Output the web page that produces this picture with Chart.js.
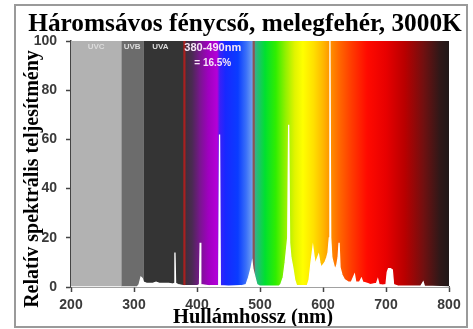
<!DOCTYPE html>
<html><head><meta charset="utf-8">
<script src="https://cdn.jsdelivr.net/npm/chart.js@4/dist/chart.umd.min.js"></script>
<style>html,body{margin:0;padding:0;background:#fff}canvas{display:block}</style>
</head><body>
<canvas id="c" width="473" height="329"></canvas>
<script>
const titleText = 'Háromsávos fénycső, melegfehér, 3000K';
const xTitle = 'Hullámhossz (nm)';
const yTitle = 'Relatív spektrális teljesítmény';
const xTicks = [200, 300, 400, 500, 600, 700, 800];
const yTicks = [0, 20, 40, 60, 80, 100];

// spectrum (white area)
const wavelengths = [200,300,305,308,311,313,315,320,330,335,340,350,355,362,364,365,366,370,380,400,404,405,406,420,434.5,435.8,437,450,470,478,482,486,487.5,489,492,495,500,530,533,537,540,542,544,545.5,547,549,552,555,558,575,578,581,584,586,588,590,593,595,597,600,603,606,608,610,611,612.2,614,616,619,622,624,625.5,627,630,634,640,645,650,652,658,661,663,670,675,685,687,689,695,700,702,704,707,710,712,720,755,759,761,800];
const power =       [0,  0,  0,  1,  4,  3.5,2,  1.5,1.5,2,  1.5,1.5,1.5,1.2,1.5,14, 1.5,1,  0.5,0.5,1,  18, 1,  0.5,0.5,  62,   0.5,0.3,0.5,1,  4,  8,  10,   7,  4,  1,  0.3,0.3,1,  4,  10, 15, 20, 66,   18, 12, 8,  3,  0.5,0.5,3,  10, 16, 12, 9,  11, 13, 10, 8,  9,  10, 12, 14, 20, 100,20,   12, 10, 7,  9,  12, 18,   8,  5,  3,  2,  2,  5,  2,  2,  3.5,2,  1.5,1,  1.5,3,  1,  0.8,1,  6,  7.5,7.5,7,  1,  0.3,0.3,2,  0.3,0];

// background bands
const uvBandStart = [200, 280, 315];
const uvBandEnd = [280, 315, 380];
const uvBandColor = ['#b2b2b2', '#6c6c6c', '#343434'];
const uvLabels = ['UVC', 'UVB', 'UVA'];
const uvLabelNm = [240, 297, 342];
const gradNm = [380,392,405,418,432,436.5,445,465,478,488,491,497,508,525,540,555,568,585,600,612,625,645,670,700,730,760,785,800];
const gradColor = ['#3c3038','#4a2a52','#7a1590','#a000c0','#b400d8','#3a20f8','#1828ff','#0a3cff','#3a70f8','#70a0f0','#40a890','#20c070','#00e030','#30ee00','#90f000','#e0f400','#ffff00','#ffe000','#ffb800','#ff9000','#ff6a00','#ff3c00','#ff0a00','#e80000','#b80000','#701010','#301818','#201818'];
const markerNm = [380, 490];
const markerColor = ['#a82020', '#8a5454'];
const noteLines = ['380-490nm', '= 16.5%'];
const noteNm = 425;

const serif = '"Liberation Serif", "Times New Roman", serif';
const sans = '"Liberation Sans", Arial, sans-serif';

const bg = {
  id: 'bg',
  beforeDatasetsDraw(chart) {
    const {ctx, chartArea: a, scales: {x}} = chart;
    ctx.save();
    for (let i = 0; i < uvBandStart.length; i++) {
      const x0 = x.getPixelForValue(uvBandStart[i]);
      const x1 = x.getPixelForValue(uvBandEnd[i]);
      ctx.fillStyle = uvBandColor[i];
      ctx.fillRect(x0, a.top, x1 - x0, a.bottom - a.top);
    }
    const gx0 = x.getPixelForValue(gradNm[0]);
    const gx1 = x.getPixelForValue(gradNm[gradNm.length - 1]);
    const g = ctx.createLinearGradient(gx0, 0, gx1, 0);
    gradNm.forEach((n, i) => g.addColorStop((n - gradNm[0]) / (gradNm[gradNm.length - 1] - gradNm[0]), gradColor[i]));
    ctx.fillStyle = g;
    ctx.fillRect(gx0, a.top, gx1 - gx0, a.bottom - a.top);
    markerNm.forEach((n, i) => {
      const px = x.getPixelForValue(n);
      ctx.strokeStyle = markerColor[i];
      ctx.lineWidth = 2.2;
      ctx.beginPath(); ctx.moveTo(px, a.top); ctx.lineTo(px, a.bottom); ctx.stroke();
    });
    ctx.restore();
  },
  afterDatasetsDraw(chart) {
    const {ctx, chartArea: a, scales: {x}} = chart;
    ctx.save();
    ctx.textAlign = 'center';
    ctx.textBaseline = 'middle';
    ctx.font = 'bold 8px ' + sans;
    ctx.fillStyle = '#dcdcdc';
    uvLabels.forEach((t, i) => ctx.fillText(t, x.getPixelForValue(uvLabelNm[i]), a.top + 6));
    ctx.fillStyle = '#f6e6f6';
    ctx.font = 'bold 11px ' + sans;
    ctx.fillText(noteLines[0], x.getPixelForValue(noteNm), a.top + 7);
    ctx.font = 'bold 10px ' + sans;
    ctx.fillText(noteLines[1], x.getPixelForValue(noteNm), a.top + 22);
    ctx.restore();
  },
  afterDraw(chart) {
    const ctx = chart.ctx;
    ctx.save();
    // titles
    ctx.fillStyle = '#000';
    ctx.textAlign = 'center';
    ctx.textBaseline = 'alphabetic';
    ctx.font = 'bold 25.3px ' + serif;
    ctx.fillText(titleText, 245, 31);
    ctx.font = 'bold 20.5px ' + serif;
    ctx.fillText(xTitle, 253, 323);
    ctx.save();
    ctx.translate(38, 179);
    ctx.rotate(-Math.PI / 2);
    ctx.font = 'bold 20px ' + serif;
    ctx.fillText(yTitle, 0, 0);
    ctx.restore();
    // frame
    ctx.strokeStyle = '#9a9a9a';
    ctx.lineWidth = 2;
    ctx.strokeRect(15, 5, 452, 322);
    ctx.restore();
  }
};

new Chart(document.getElementById('c'), {
  type: 'line',
  data: {
    datasets: [{
      data: wavelengths.map((w, i) => ({x: w, y: power[i]})),
      fill: 'origin',
      backgroundColor: '#ffffff',
      borderColor: '#ffffff',
      borderWidth: 1.3,
      pointRadius: 0,
      tension: 0
    }]
  },
  options: {
    responsive: false,
    animation: false,
    devicePixelRatio: 1,
    layout: {padding: {left: 20, right: 24, top: 41, bottom: 0}},
    plugins: {
      legend: {display: false},
      tooltip: {enabled: false},
      title: {display: false}
    },
    scales: {
      x: {
        type: 'linear', min: 200, max: 800,
        afterBuildTicks(s) { s.ticks = xTicks.map(v => ({value: v})); },
        ticks: {color: '#3a3a3a', padding: 5, font: {family: sans, size: 14, weight: 'bold'}},
        grid: {drawOnChartArea: false, drawTicks: true, tickLength: 5, tickColor: '#444', tickWidth: 1.5},
        border: {display: true, color: '#444', width: 1.5},
        title: {display: false},
        afterFit(s) { s.height = 42; }
      },
      y: {
        min: 0, max: 100,
        afterBuildTicks(s) { s.ticks = yTicks.map(v => ({value: v})); },
        ticks: {color: '#3a3a3a', padding: 9, font: {family: sans, size: 14, weight: 'bold'}},
        grid: {drawOnChartArea: false, drawTicks: true, tickLength: 5, tickColor: '#444', tickWidth: 1.5},
        border: {display: true, color: '#444', width: 1.5},
        title: {display: false},
        afterFit(s) { s.width = 51; }
      }
    }
  },
  plugins: [bg]
});
</script>
</body></html>
